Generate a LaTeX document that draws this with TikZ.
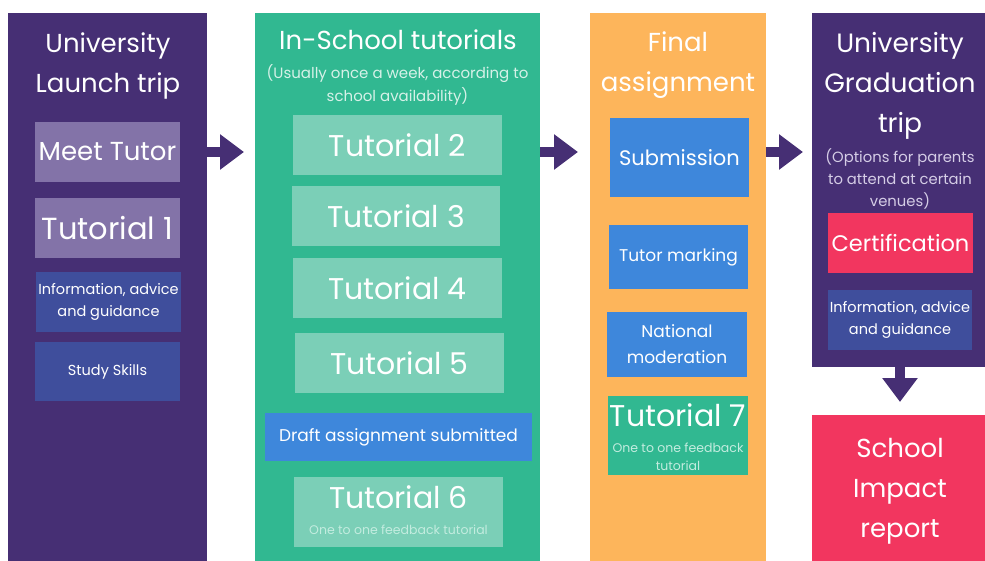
\documentclass[tikz,border=0pt]{standalone}
\usepackage{fontspec}
\setmainfont{Poppins}
\usetikzlibrary{arrows.meta}
\definecolor{plum}{HTML}{462F74}
\definecolor{lilac}{HTML}{8373A8}
\definecolor{navy}{HTML}{3F4E9C}
\definecolor{teal}{HTML}{31B891}
\definecolor{mint}{HTML}{7BCFB7}
\definecolor{sky}{HTML}{3E87DB}
\definecolor{amber}{HTML}{FDB55B}
\definecolor{rose}{HTML}{F2365F}
\definecolor{paletxt}{HTML}{D6F1E8}
\definecolor{fainttxt}{HTML}{C3ECDF}
\definecolor{lilactxt}{HTML}{D5CDE6}
\tikzset{
  column/.style={fill=#1, draw=none, inner sep=0pt, anchor=north west},
  card/.style={fill=#1, draw=none, inner sep=0pt, text=white, align=center},
  lbl/.style={text=white, align=center, inner sep=0pt},
  head/.style={lbl, font=\fontsize{26}{40}\selectfont},
  huge/.style={font=\fontsize{30}{34}\selectfont},
  small/.style={font=\fontsize{14.5}{22}\selectfont},
  tiny/.style={font=\fontsize{12.5}{18}\selectfont},
  flow/.style={draw=plum, line width=10pt,
    -{Triangle[length=24pt,width=34pt]}},
}
\begin{document}
\begin{tikzpicture}[x=1pt,y=-1pt]
\useasboundingbox (0,0) rectangle (985,561);
\fill[white] (0,0) rectangle (985,561);

% four stage columns
\node[column=plum, minimum width=199pt, minimum height=548pt] (launch) at (8,13) {};
\node[column=teal, minimum width=285pt, minimum height=548pt] (school) at (255,13) {};
\node[column=amber, minimum width=176pt, minimum height=548pt] (final) at (590,13) {};
\node[column=plum, minimum width=173pt, minimum height=354pt] (grad) at (812,13) {};
\node[column=rose, minimum width=173pt, minimum height=146pt] (impact) at (812,415) {};

% stage 1: university launch trip
\node[head] (launchT) at (108,65.5) {University\\Launch trip};
\node[card=lilac, font=\fontsize{26}{30}\selectfont, minimum width=145pt, minimum height=60pt] (meet) at (107.5,152) {Meet Tutor};
\node[card=lilac, font=\fontsize{30.5}{34}\selectfont, minimum width=145pt, minimum height=60pt] (tut1) at (107.5,228) {Tutorial 1};
\node[card=navy, small, minimum width=145pt, minimum height=60pt] (iag1) at (108.5,302) {Information, advice\\and guidance};
\node[card=navy, small, minimum width=145pt, minimum height=59pt] (skills) at (107.5,371.5) {Study Skills};

% stage 2: in-school tutorials
\node[lbl, font=\fontsize{26}{30}\selectfont] (schoolT) at (398,40) {In-School tutorials};
\node[lbl, text=paletxt, font=\fontsize{15}{23}\selectfont] (schoolS) at (397.5,85) {(Usually once a week, according to\\school availability)};
\node[card=mint, huge, minimum width=209pt, minimum height=60pt] (tut2) at (397.5,145) {Tutorial 2};
\node[card=mint, huge, minimum width=208pt, minimum height=60pt] (tut3) at (396,216) {Tutorial 3};
\node[card=mint, huge, minimum width=209pt, minimum height=60pt] (tut4) at (397.5,288) {Tutorial 4};
\node[card=mint, huge, minimum width=209pt, minimum height=60pt] (tut5) at (399.5,363) {Tutorial 5};
\node[card=sky, font=\fontsize{17}{20}\selectfont, minimum width=267pt, minimum height=48pt] (draft) at (398.5,437) {Draft assignment submitted};
\node[card=mint, minimum width=209pt, minimum height=70pt] (tut6) at (398.5,512) {};
\node[lbl, huge] (tut6T) at (398.5,497) {Tutorial 6};
\node[lbl, text=fainttxt, tiny] (tut6S) at (398.5,530) {One to one feedback tutorial};

% stage 3: final assignment
\node[head] (finalT) at (678,65) {Final\\assignment};
\node[card=sky, font=\fontsize{21}{24}\selectfont, minimum width=139pt, minimum height=79pt] (submit) at (679.5,157.5) {Submission};
\node[card=sky, font=\fontsize{17}{22}\selectfont, minimum width=139pt, minimum height=64pt] (marking) at (678.5,257) {Tutor marking};
\node[card=sky, font=\fontsize{17}{26}\selectfont, minimum width=140pt, minimum height=65pt] (moder) at (677,344.5) {National\\moderation};
\node[card=teal, minimum width=140pt, minimum height=79pt] (tut7) at (678,435.5) {};
\node[lbl, huge] (tut7T) at (678,415) {Tutorial 7};
\node[lbl, text=fainttxt, tiny] (tut7S) at (678,457) {One to one feedback\\tutorial};

% stage 4: graduation trip and report
\node[head, font=\fontsize{26.5}{40}\selectfont] (gradT) at (900,86) {University\\Graduation\\trip};
\node[lbl, text=lilactxt, font=\fontsize{14.8}{22}\selectfont] (gradS) at (900,179) {(Options for parents\\to attend at certain\\venues)};
\node[card=rose, font=\fontsize{22.5}{24}\selectfont, minimum width=145pt, minimum height=60pt] (cert) at (900.5,243) {Certification};
\node[card=navy, small, minimum width=144pt, minimum height=60pt] (iag2) at (900,320) {Information, advice\\and guidance};
\node[head] (impactT) at (900,491) {School\\Impact\\report};

% flow between stages
\coordinate (row) at (0,152);
\draw[flow, shorten >=11pt] (launch.east |- row) -- (school.west |- row);
\draw[flow, shorten >=12pt] (school.east |- row) -- (final.west |- row);
\draw[flow, shorten >=9pt] (final.east |- row) -- (grad.west |- row);
\draw[flow, shorten >=13pt] (grad.south -| 900,0) -- (impact.north -| 900,0);
\end{tikzpicture}
\end{document}
